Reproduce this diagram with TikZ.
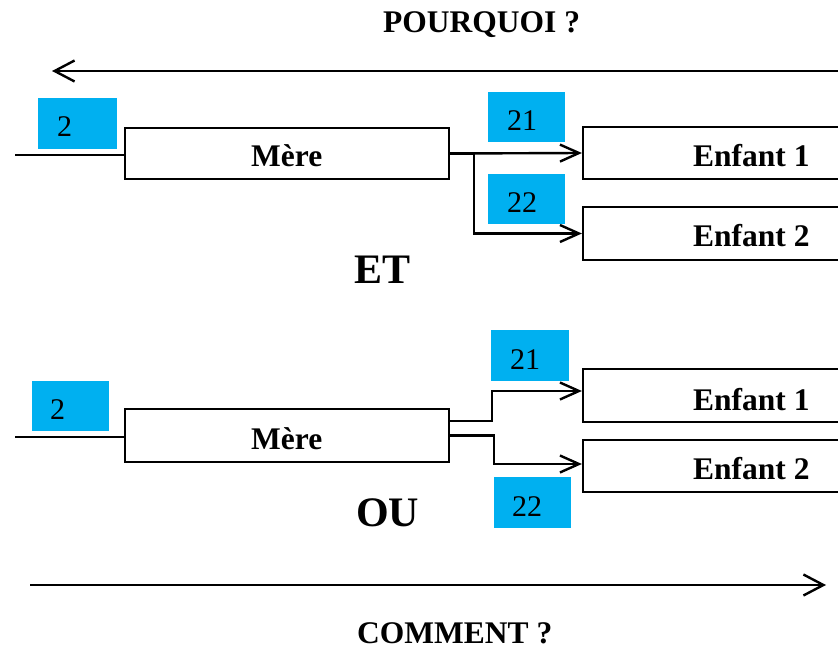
\documentclass[tikz,border=0pt]{standalone}
\usepackage{fontspec}
\setmainfont{Liberation Serif}
\usetikzlibrary{arrows.meta}
\definecolor{tagblue}{HTML}{00B0F0}
\begin{document}
\begin{tikzpicture}[x=1pt,y=-1pt,
  box/.style={draw=black, line width=2.2pt, rectangle, inner sep=0pt, minimum height=52pt},
  tag/.style={fill=tagblue, inner sep=0pt, minimum width=77pt, minimum height=50pt},
  lbl/.style={font=\fontsize{31.5}{36}\selectfont\bfseries, inner sep=0pt, anchor=base west},
  num/.style={font=\fontsize{30}{36}\selectfont, inner sep=0pt, anchor=base west},
  head/.style={font=\fontsize{31.5}{36}\selectfont\bfseries, inner sep=0pt, anchor=base west},
  big/.style={font=\fontsize{42}{48}\selectfont\bfseries, inner sep=0pt, anchor=base west},
  wire/.style={line width=2.4pt},
  arr/.style={wire, -{Straight Barb[length=19pt,width=17pt]}},
  longarr/.style={wire, -{Straight Barb[length=20pt,width=21pt]}},
]
\clip (0,0) rectangle (838,652);

% direction arrows and their captions
\node[head] (why) at (383,33) {POURQUOI ?};
\coordinate (whyR) at (838,71);
\coordinate (whyL) at (52,71);
\draw[longarr] (whyR) -- (whyL);

\coordinate (howL) at (30,585);
\coordinate (howR) at (826,585);
\draw[longarr] (howL) -- (howR);
\node[head] (how) at (357,643) {COMMENT ?};

% ---------- ET ----------
\node[tag, minimum width=79pt, minimum height=51pt] (t2a) at (77.5,123.5) {};
\node[num] (n2a) at (57,137) {2};
\node[tag] (t21a) at (526,117) {};
\node[num] (n21a) at (507,131) {21};
\node[tag] (t22a) at (526,199) {};
\node[num] (n22a) at (507,213) {22};

\node[box, minimum width=324pt, minimum height=51pt] (m1) at (287,153.5) {};
\node[lbl] (lm1) at (251,167) {Mère};
\node[box, minimum width=300pt] (e1) at (733,153) {};
\node[lbl] (le1) at (693,167) {Enfant 1};
\node[box, minimum width=300pt, minimum height=53pt] (e2) at (733,233.5) {};
\node[lbl] (le2) at (693,247) {Enfant 2};

\coordinate (in1) at (15,155);
\draw[wire] (in1) -- (in1 -| m1.west);
\draw[arr] (m1.east) -- (e1.west);
\draw[arr] (m1.east) -- ++(24,0) |- (e2.west);

\node[big] (et) at (354,284) {ET};

% ---------- OU ----------
\node[tag] (t2b) at (70.5,405.5) {};
\node[num] (n2b) at (50,419) {2};
\node[tag, minimum width=78pt, minimum height=51pt] (t21b) at (530,355.5) {};
\node[num] (n21b) at (510,369) {21};
\node[tag, minimum width=77pt, minimum height=51pt] (t22b) at (532.5,502.5) {};
\node[num] (n22b) at (512,516) {22};

\node[box, minimum width=324pt, minimum height=53pt] (m2) at (287,435.5) {};
\node[lbl] (lm2) at (251,449) {Mère};
\node[box, minimum width=300pt, minimum height=53pt] (e3) at (733,395.5) {};
\node[lbl] (le3) at (693,410) {Enfant 1};
\node[box, minimum width=300pt] (e4) at (733,466) {};
\node[lbl] (le4) at (693,479) {Enfant 2};

\coordinate (in2) at (15,437);
\draw[wire] (in2) -- (in2 -| m2.west);
\draw[arr] ([yshift=14.5pt]m2.east) -- ++(42,0) |- ([yshift=4.5pt]e3.west);
\draw[arr] (m2.east) -- ++(44,0) |- ([yshift=2pt]e4.west);

\node[big] (ou) at (356,526) {OU};
\end{tikzpicture}
\end{document}
